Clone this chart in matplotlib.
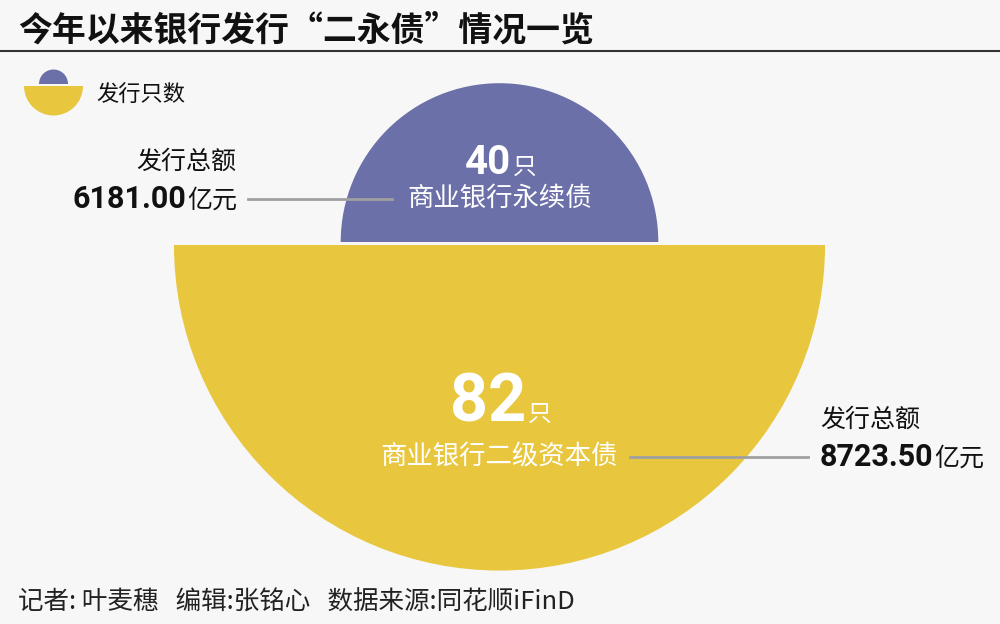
import matplotlib.pyplot as plt
from matplotlib.patches import Wedge

plt.rcParams['font.family'] = ['Noto Sans CJK SC', 'DejaVu Sans']

# data
bond_types = ['商业银行永续债', '商业银行二级资本债']
counts = [40, 82]
amounts = [6181.00, 8723.50]
title = '今年以来银行发行“二永债”情况一览'
legend_label = '发行只数'
amount_label = '发行总额'
footer = '记者: 叶麦穗   编辑:张铭心   数据来源:同花顺iFinD'

bg_color = '#f7f7f7'
purple = '#6c70a8'
yellow = '#e8c73f'
text_color = '#111111'
line_color = '#a0a0a0'

fig = plt.figure(figsize=(10, 6.24), dpi=100, facecolor=bg_color)
ax = fig.add_axes([0, 0, 1, 1])
ax.set_xlim(0, 1000)
ax.set_ylim(624, 0)
ax.axis('off')
ax.set_facecolor(bg_color)

# title and rule
ax.text(18, 30, title, fontsize=24.4, fontweight='bold', color=text_color,
        ha='left', va='center')
ax.plot([0, 1000], [51, 51], color='#333333', lw=1.5)

# semicircles, radius proportional to count (y axis is inverted, so angles flip)
scale = 3.97
cx = 499.5
base = 243.5
ax.add_patch(Wedge((cx, base - 1.5), counts[0] * scale, 180, 360, facecolor=purple, edgecolor='none'))
ax.add_patch(Wedge((cx, base + 1.5), counts[1] * scale, 0, 180, facecolor=yellow, edgecolor='none'))

# legend icon
lx, ly = 53.5, 85
ax.add_patch(Wedge((lx, ly - 1), 14.5, 180, 360, facecolor=purple, edgecolor='none'))
ax.add_patch(Wedge((lx, ly + 1), 29.5, 0, 180, facecolor=yellow, edgecolor='none'))
ax.text(96, 95, legend_label, fontsize=16, fontweight='medium', color=text_color,
        ha='left', va='center')

fig.canvas.draw()
renderer = fig.canvas.get_renderer()
inv = ax.transData.inverted()


def text_width(t):
    bb = t.get_window_extent(renderer)
    x0 = inv.transform((bb.x0, bb.y0))[0]
    x1 = inv.transform((bb.x1, bb.y0))[0]
    return x1 - x0


def count_label(x, y, n, size):
    num = ax.text(0, y, str(n), fontsize=size, fontweight='bold', color='white',
                  family=['Roboto', 'DejaVu Sans'], ha='left', va='baseline')
    unit = ax.text(0, y, '只', fontsize=17, fontweight='medium', color='white',
                   ha='left', va='baseline')
    w1 = text_width(num)
    w2 = text_width(unit)
    start = x - (w1 + w2) / 2
    num.set_x(start)
    unit.set_x(start + w1 + 2)


def amount_text(x, y, value, align):
    num = ax.text(0, y, f'{value:.2f}', fontsize=22, fontweight='bold', color=text_color,
                  family=['Roboto', 'DejaVu Sans'], ha='left', va='baseline')
    unit = ax.text(0, y, '亿元', fontsize=18, fontweight='medium', color=text_color,
                   ha='left', va='baseline')
    w1 = text_width(num)
    w2 = text_width(unit)
    start = x - w1 - w2 if align == 'right' else x
    num.set_x(start)
    unit.set_x(start + w1 + 1)


# purple block labels
count_label(cx, 174, counts[0], 29)
ax.text(cx, 198, bond_types[0], fontsize=19, fontweight='medium', color='white',
        ha='center', va='center')
ax.plot([248, 392], [199, 199], color=line_color, lw=2)
ax.text(236, 162, amount_label, fontsize=18, fontweight='medium', color=text_color,
        ha='right', va='center')
amount_text(236, 208, amounts[0], 'right')

# yellow block labels
count_label(cx, 421, counts[1], 48)
ax.text(cx, 457, bond_types[1], fontsize=19, fontweight='medium', color='white',
        ha='center', va='center')
ax.plot([630, 808], [457, 457], color=line_color, lw=2)
ax.text(820, 420, amount_label, fontsize=18, fontweight='medium', color=text_color,
        ha='left', va='center')
amount_text(820, 466, amounts[1], 'left')

# footer
ax.text(18, 603, footer, fontsize=18.4, color='#222222', ha='left', va='center')

fig.savefig('out.png', dpi=100, facecolor=bg_color)
